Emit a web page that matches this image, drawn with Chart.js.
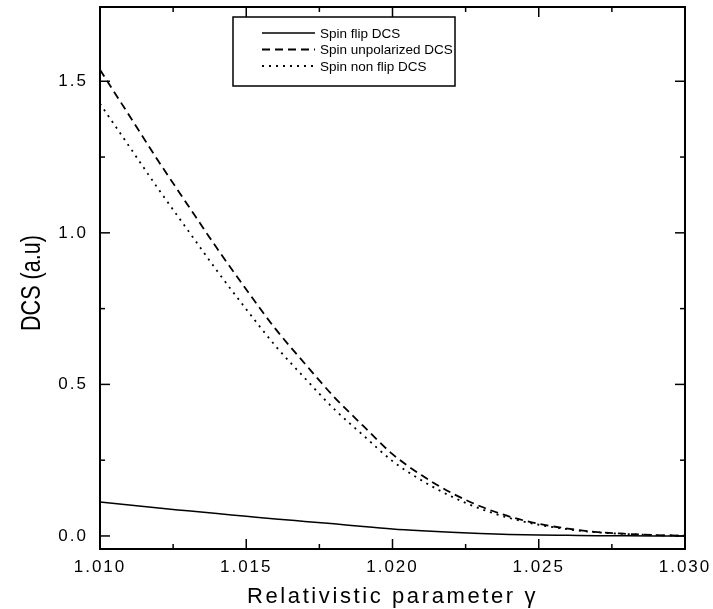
<!DOCTYPE html>
<html><head><meta charset="utf-8">
<script src="https://cdn.jsdelivr.net/npm/chart.js@4.4.1/dist/chart.umd.min.js"></script>
<style>html,body{margin:0;padding:0;background:#fff;}#wrap{width:713px;height:609px;}</style>
</head><body><div id="wrap"><canvas id="c" width="713" height="609"></canvas></div>
<script>
const GAMMA = [1.010,1.011,1.012,1.013,1.014,1.015,1.016,1.017,1.018,1.019,1.020,1.021,1.022,1.023,1.024,1.025,1.026,1.027,1.028,1.029,1.030];
const SPIN_FLIP = [0.112,0.102,0.092,0.083,0.074,0.065,0.056,0.048,0.040,0.031,0.023,0.017,0.012,0.008,0.005,0.003,0.002,0.001,0.0005,0.0002,0.0];
const SPIN_UNPOL = [1.538,1.387,1.236,1.092,0.949,0.813,0.683,0.569,0.459,0.363,0.270,0.200,0.143,0.098,0.064,0.040,0.024,0.013,0.007,0.003,0.001];
const SPIN_NONFLIP = [1.426,1.285,1.144,1.009,0.875,0.748,0.627,0.521,0.419,0.332,0.247,0.183,0.131,0.090,0.059,0.037,0.022,0.012,0.0065,0.0028,0.001];
const X_TICKS = [1.010,1.015,1.020,1.025,1.030];
const X_TICK_LABELS = ['1.010','1.015','1.020','1.025','1.030'];
const Y_TICKS = [0.0,0.5,1.0,1.5];
const Y_TICK_LABELS = ['0.0','0.5','1.0','1.5'];
const SERIES_LABELS = ['Spin flip DCS','Spin unpolarized DCS','Spin non flip DCS'];
const X_TITLE = 'Relativistic parameter \u03b3';
const Y_TITLE = 'DCS (a.u)';

const toPts = ys => GAMMA.map((g,i)=>({x:g,y:ys[i]}));
const FONT = "'Liberation Sans', Arial, Helvetica, sans-serif";

const framePlugin = {
  id:'frame',
  beforeDraw(chart){ chart.ctx.letterSpacing = '2px'; },
  afterDraw(chart){
    const ctx = chart.ctx, a = chart.chartArea;
    const xs = chart.scales.x, ys = chart.scales.y;
    ctx.save();
    ctx.letterSpacing = '0px';
    ctx.strokeStyle = '#000';
    ctx.lineWidth = 2;
    ctx.strokeRect(a.left, a.top, a.right-a.left, a.bottom-a.top);
    ctx.lineWidth = 1.5;
    const line=(x1,y1,x2,y2)=>{ctx.beginPath();ctx.moveTo(x1,y1);ctx.lineTo(x2,y2);ctx.stroke();};
    const MAJ=10, MIN=5;
    X_TICKS.forEach((v,i)=>{
      const p = xs.getPixelForValue(v);
      line(p,a.bottom,p,a.bottom-MAJ); line(p,a.top,p,a.top+MAJ);
      if(i<X_TICKS.length-1){
        const q = xs.getPixelForValue((v+X_TICKS[i+1])/2);
        line(q,a.bottom,q,a.bottom-MIN); line(q,a.top,q,a.top+MIN);
      }
    });
    Y_TICKS.forEach((v,i)=>{
      const p = ys.getPixelForValue(v);
      line(a.left,p,a.left+MAJ,p); line(a.right,p,a.right-MAJ,p);
      if(i<Y_TICKS.length-1){
        const q = ys.getPixelForValue((v+Y_TICKS[i+1])/2);
        line(a.left,q,a.left+MIN,q); line(a.right,q,a.right-MIN,q);
      }
    });
    // axis titles
    ctx.fillStyle='#000';
    ctx.font = "22px " + FONT;
    ctx.letterSpacing = '2.6px';
    ctx.textAlign='center'; ctx.textBaseline='alphabetic';
    ctx.fillText(X_TITLE, (a.left+a.right)/2, 603);
    ctx.save();
    ctx.translate(40, 283);
    ctx.rotate(-Math.PI/2);
    ctx.scale(0.8, 1);
    ctx.font = "27px " + FONT;
    ctx.letterSpacing = '0px';
    ctx.fillText(Y_TITLE, 0, 0);
    ctx.restore();
    // legend
    const L = {x:233, y:17, w:222, h:69};
    ctx.lineWidth = 1.5;
    ctx.strokeRect(L.x, L.y, L.w, L.h);
    ctx.font = "13.5px " + FONT;
    ctx.letterSpacing = '0px';
    ctx.textAlign='left'; ctx.textBaseline='middle';
    chart.data.datasets.forEach((ds,i)=>{
      const yy = 33 + i*16.5;
      ctx.save();
      ctx.lineWidth = ds.borderWidth;
      ctx.setLineDash(ds.borderDash||[]);
      line(262,yy,315,yy);
      ctx.restore();
      ctx.fillText(ds.label, 320, yy+1);
    });
    ctx.restore();
  }
};

new Chart(document.getElementById('c'), {
  type:'line',
  data:{datasets:[
    {label:SERIES_LABELS[0], data:toPts(SPIN_FLIP), borderColor:'#000', borderWidth:1.5, borderDash:[], pointRadius:0, cubicInterpolationMode:'monotone', fill:false},
    {label:SERIES_LABELS[1], data:toPts(SPIN_UNPOL), borderColor:'#000', borderWidth:1.8, borderDash:[8,5], pointRadius:0, cubicInterpolationMode:'monotone', fill:false},
    {label:SERIES_LABELS[2], data:toPts(SPIN_NONFLIP), borderColor:'#000', borderWidth:1.8, borderDash:[2,5], pointRadius:0, cubicInterpolationMode:'monotone', fill:false}
  ]},
  options:{
    responsive:false, animation:false, devicePixelRatio:1,
    layout:{padding:{top:7,right:28,left:0,bottom:0}},
    plugins:{legend:{display:false}, tooltip:{enabled:false}},
    scales:{
      x:{type:'linear', min:1.010, max:1.030,
        grid:{display:false, drawTicks:false}, border:{display:false},
        afterBuildTicks:s=>{s.ticks = X_TICKS.map(v=>({value:v}));},
        afterFit:s=>{s.height=60; s.paddingLeft=0; s.paddingRight=0;},
        ticks:{color:'#000', padding:8, maxRotation:0, autoSkip:false, font:{size:17, family:FONT},
          callback:(v,i)=>X_TICK_LABELS[i]}},
      y:{type:'linear', min:-0.043, max:1.745,
        grid:{display:false, drawTicks:false}, border:{display:false},
        afterBuildTicks:s=>{s.ticks = Y_TICKS.map(v=>({value:v}));},
        afterFit:s=>{s.width=100; s.paddingTop=0; s.paddingBottom=0;},
        ticks:{color:'#000', padding:12, font:{size:17, family:FONT},
          callback:(v,i)=>Y_TICK_LABELS[i]}}
    }
  },
  plugins:[framePlugin]
});
</script></body></html>
